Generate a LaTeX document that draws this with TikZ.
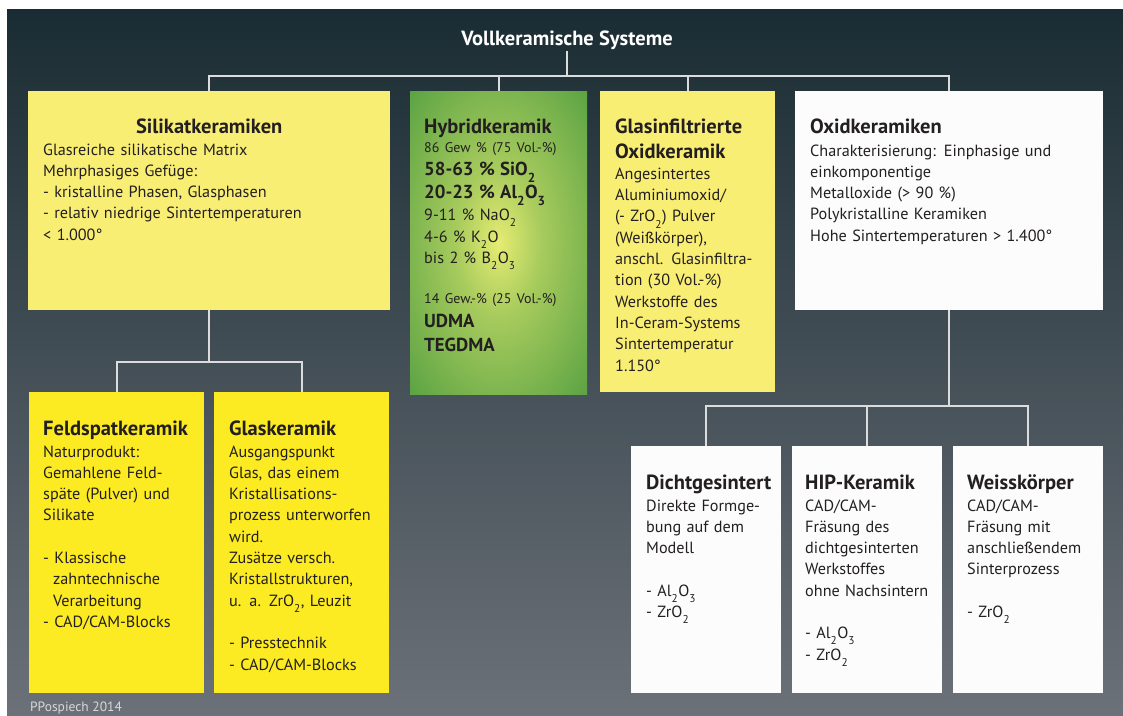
\documentclass[tikz,border=0pt]{standalone}
\usepackage{fontspec}
\setmainfont{PT Sans}
\usetikzlibrary{positioning}
\definecolor{bgtop}{HTML}{1A2C33}
\definecolor{bgbot}{HTML}{6C7179}
\definecolor{paleyel}{HTML}{F9EE74}
\definecolor{brightyel}{HTML}{FCEB22}
\definecolor{leafgreen}{HTML}{4A9A3E}
\definecolor{glowyel}{HTML}{E6EC72}
\definecolor{boxwhite}{HTML}{FCFCFC}
\definecolor{ink}{HTML}{231F20}
\definecolor{wire}{HTML}{DCDCDC}
\definecolor{footgray}{HTML}{D8D8D8}
\pgfdeclareradialshading{glow}{\pgfpoint{0bp}{0bp}}{%
  color(0bp)=(glowyel); color(12bp)=(glowyel!60!leafgreen);
  color(36bp)=(leafgreen!90!glowyel); color(50bp)=(leafgreen)}
\newcommand{\ix}[1]{\raisebox{-0.22em}{\textsubscript{#1}}}
\newcommand{\hdr}{\fontsize{20.5}{21.3}\selectfont\bfseries}
\newcommand{\sml}{\fontsize{14}{21.3}\selectfont}
\newcommand{\chm}{\fontsize{18.8}{21.3}\selectfont\bfseries}

\begin{document}
\begin{tikzpicture}[x=1pt,y=-1pt,
    box/.style={anchor=north west,inner sep=0pt,outer sep=0pt},
    txt/.style={anchor=base west,inner sep=0pt,align=left,text=ink,
      text width=340pt,font=\fontsize{16.2}{21.3}\selectfont},
    conn/.style={draw=wire,line width=2pt}]
    % frame
    \useasboundingbox (0,0) rectangle (1123,715);
    \fill[white] (0,0) rectangle (1123,715);
    \shade[top color=bgtop,bottom color=bgbot] (7,9) rectangle (1123,715);
    % boxes
    \node[box,fill=paleyel,minimum width=362,minimum height=219] (silikat) at (28,91) {};
    \node[box,shade,shading=glow,minimum width=177,minimum height=303] (hybrid) at (410,91) {};
    \node[box,fill=paleyel,minimum width=175,minimum height=301] (glasinf) at (600,91) {};
    \node[box,fill=boxwhite,minimum width=308,minimum height=219] (oxid) at (795,91) {};
    \node[box,fill=brightyel,minimum width=175,minimum height=301] (feldspat) at (29,392) {};
    \node[box,fill=brightyel,minimum width=175,minimum height=301] (glasker) at (214,392) {};
    \node[box,fill=boxwhite,minimum width=150,minimum height=247] (dicht) at (631,446) {};
    \node[box,fill=boxwhite,minimum width=150,minimum height=247] (hip) at (792,446) {};
    \node[box,fill=boxwhite,minimum width=150,minimum height=247] (weiss) at (953,446) {};
    \node[anchor=base,inner sep=2pt,text=white,font=\hdr] (title) at (567,45) {Vollkeramische Systeme};
    % tree
    \draw[conn] (title.south) -- (title.south |- 0,76) coordinate (bus);
    \draw[conn] (silikat.north) |- (bus) -| (oxid.north);
    \draw[conn] (hybrid.north) -- (hybrid.north |- bus);
    \draw[conn] (glasinf.north) -- (glasinf.north |- bus);
    \draw[conn] (silikat.south) -- ++(0,52) coordinate (sbus);
    \draw[conn] (feldspat.north) |- (sbus) -| (glasker.north);
    \draw[conn] (oxid.south) -- ++(0,96) coordinate (obus);
    \draw[conn] (dicht.north) |- (obus) -| (weiss.north);
    \draw[conn] (hip.north) -- (hip.north |- obus);
    % texts
    \node[txt,shift={(15,42)}] (silikatT) at (silikat.north west)
      {\makebox[332pt]{\hdr Silikatkeramiken}\\[0.7pt]
       Glasreiche silikatische Matrix\\ Mehrphasiges Gefüge:\\
       - kristalline Phasen, Glasphasen\\ - relativ niedrige Sintertemperaturen\\
       < 1.000°};
    \node[txt,shift={(14,42)}] (hybridT) at (hybrid.north west)
      {{\hdr Hybridkeramik}\\[-2.3pt]
       {\sml 86 Gew \% (75 Vol.-\%)}\\[1.7pt]
       {\chm 58-63 \% SiO\ix{2}}\\[1.7pt]
       {\chm 20-23 \% Al\ix{2}O\ix{3}}\\[0.7pt]
       9-11 \% NaO\ix{2}\\[0.7pt]
       4-6 \% K\ix{2}O\\
       bis 2 \% B\ix{2}O\ix{3}\\[18.7pt]
       {\sml 14 Gew.-\% (25 Vol.-\%)}\\[2.7pt]
       {\chm UDMA}\\[2.7pt]
       {\chm TEGDMA}};
    \node[txt,shift={(15,42)}] (glasinfT) at (glasinf.north west)
      {{\hdr Glasinfiltrierte}\\[3.7pt] {\hdr Oxidkeramik}\\
       Angesintertes\\ Aluminiumoxid/\\ (- ZrO\ix{2}) Pulver\\ (Weißkörper),\\
       anschl. Glasinfiltra-\\ tion (30 Vol.-\%)\\ Werkstoffe des\\
       In-Ceram-Systems\\ Sintertemperatur\\ 1.150°};
    \node[txt,shift={(15,42)}] (oxidT) at (oxid.north west)
      {{\hdr Oxidkeramiken}\\[1.7pt]
       Charakterisierung: Einphasige und\\ einkomponentige\\
       Metalloxide (> 90 \%)\\ Polykristalline Keramiken\\
       Hohe Sintertemperaturen > 1.400°};
    \node[txt,shift={(14,43)}] (feldspatT) at (feldspat.north west)
      {{\hdr Feldspatkeramik}\\[0.7pt]
       Naturprodukt:\\ Gemahlene Feld-\\ späte (Pulver) und\\ Silikate\\[21.3pt]
       - Klassische\\ \hspace*{10pt}zahntechnische\\ \hspace*{10pt}Verarbeitung\\
       - CAD/CAM-Blocks};
    \node[txt,shift={(15,43)}] (glaskerT) at (glasker.north west)
      {{\hdr Glaskeramik}\\[0.7pt]
       Ausgangspunkt\\ Glas, das einem\\ Kristallisations-\\ prozess unterworfen\\
       wird.\\ Zusätze versch.\\ Kristallstrukturen,\\ u. a. ZrO\ix{2}, Leuzit\\[21.3pt]
       - Presstechnik\\ - CAD/CAM-Blocks};
    \node[txt,shift={(15,43)}] (dichtT) at (dicht.north west)
      {{\hdr Dichtgesintert}\\[0.7pt]
       Direkte Formge-\\ bung auf dem\\ Modell\\[21.3pt]
       - Al\ix{2}O\ix{3}\\ - ZrO\ix{2}};
    \node[txt,shift={(13,43)}] (hipT) at (hip.north west)
      {{\hdr HIP-Keramik}\\[0.7pt]
       CAD/CAM-\\ Fräsung des\\ dichtgesinterten\\ Werkstoffes\\ ohne Nachsintern\\[21.3pt]
       - Al\ix{2}O\ix{3}\\ - ZrO\ix{2}};
    \node[txt,shift={(14,43)}] (weissT) at (weiss.north west)
      {{\hdr Weisskörper}\\[0.7pt]
       CAD/CAM-\\ Fräsung mit\\ anschließendem\\ Sinterprozess\\[21.3pt]
       - ZrO\ix{2}};
    \node[anchor=base west,inner sep=0pt,text=footgray,font=\fontsize{13.5}{15}\selectfont] (credit) at (30,711) {PPospiech 2014};
\end{tikzpicture}
\end{document}
